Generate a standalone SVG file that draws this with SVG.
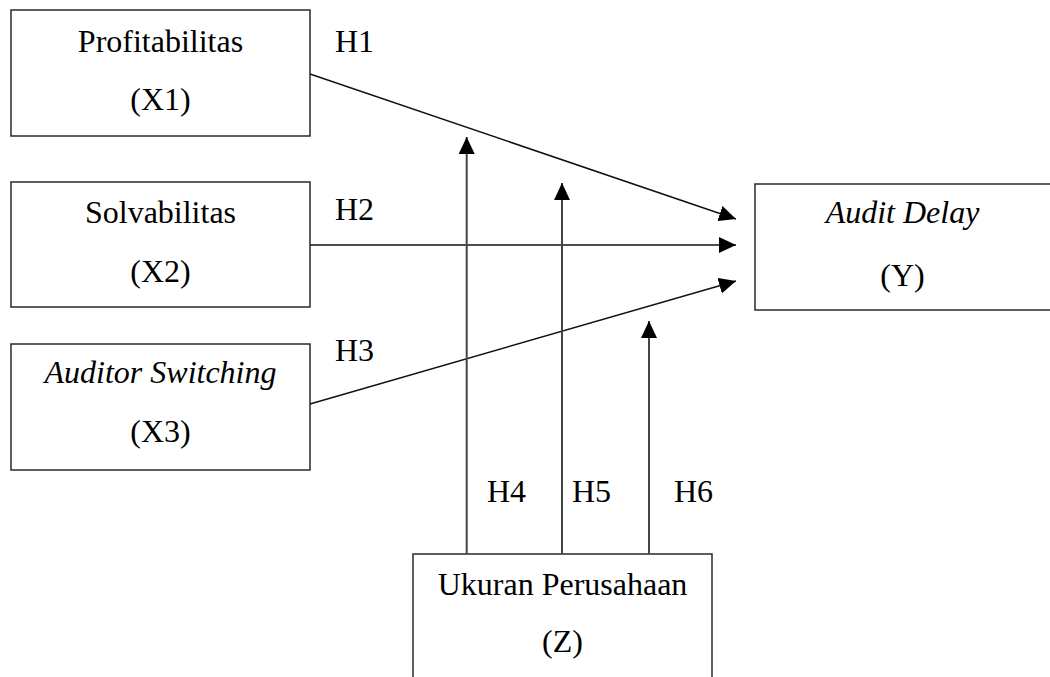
<svg xmlns="http://www.w3.org/2000/svg" width="1050" height="677" viewBox="0 0 1050 677">
<style>
.box{fill:#fff;stroke:#2a2a2a;stroke-width:1.5}
.t{font-family:"Liberation Serif","Times New Roman",serif;font-size:32px;fill:#000}
.c{text-anchor:middle}
.i{font-style:italic}
.ln{stroke:#111;stroke-width:1.5;fill:none}
.vl{stroke:#444;stroke-width:2;fill:none}
</style>
<defs>
<marker id="ah" markerUnits="userSpaceOnUse" markerWidth="17" markerHeight="16" refX="17" refY="8" orient="auto" viewBox="0 0 17 16">
<path d="M0,0 L17,8 L0,16 Z" fill="#000"/>
</marker>
</defs>
<rect width="1050" height="677" fill="#fff"/>
<g id="x1">
<rect class="box" x="11" y="10" width="299" height="126"/>
<text class="t c" x="160.5" y="52">Profitabilitas</text>
<text class="t c" x="160.5" y="110">(X1)</text>
</g>
<g id="x2">
<rect class="box" x="11" y="182" width="299" height="125"/>
<text class="t c" x="160.5" y="223">Solvabilitas</text>
<text class="t c" x="160.5" y="282">(X2)</text>
</g>
<g id="x3">
<rect class="box" x="11" y="344" width="299" height="126"/>
<text class="t c i" x="160.5" y="383">Auditor Switching</text>
<text class="t c" x="160.5" y="442">(X3)</text>
</g>
<g id="y">
<rect class="box" x="755" y="184" width="310" height="126"/>
<text class="t c i" x="902.5" y="223">Audit Delay</text>
<text class="t c" x="902.5" y="286">(Y)</text>
</g>
<g id="z">
<rect class="box" x="413" y="554" width="299" height="140"/>
<text class="t c" x="562.5" y="595">Ukuran Perusahaan</text>
<text class="t c" x="562.5" y="652">(Z)</text>
</g>
<g id="connectors">
<line class="ln" x1="310" y1="74" x2="736" y2="219" marker-end="url(#ah)"/>
<line class="ln" x1="310" y1="245" x2="736" y2="245" marker-end="url(#ah)"/>
<line class="ln" x1="310" y1="404" x2="736" y2="281" marker-end="url(#ah)"/>
<line class="vl" x1="466.7" y1="554" x2="466.7" y2="137" marker-end="url(#ah)"/>
<line class="vl" x1="562" y1="554" x2="562" y2="183" marker-end="url(#ah)"/>
<line class="vl" x1="649" y1="554" x2="649" y2="321" marker-end="url(#ah)"/>
</g>
<g id="labels">
<text class="t" x="335" y="52">H1</text>
<text class="t" x="335" y="220">H2</text>
<text class="t" x="335" y="361">H3</text>
<text class="t" x="487" y="502">H4</text>
<text class="t" x="572" y="502">H5</text>
<text class="t" x="674" y="502">H6</text>
</g>
</svg>
